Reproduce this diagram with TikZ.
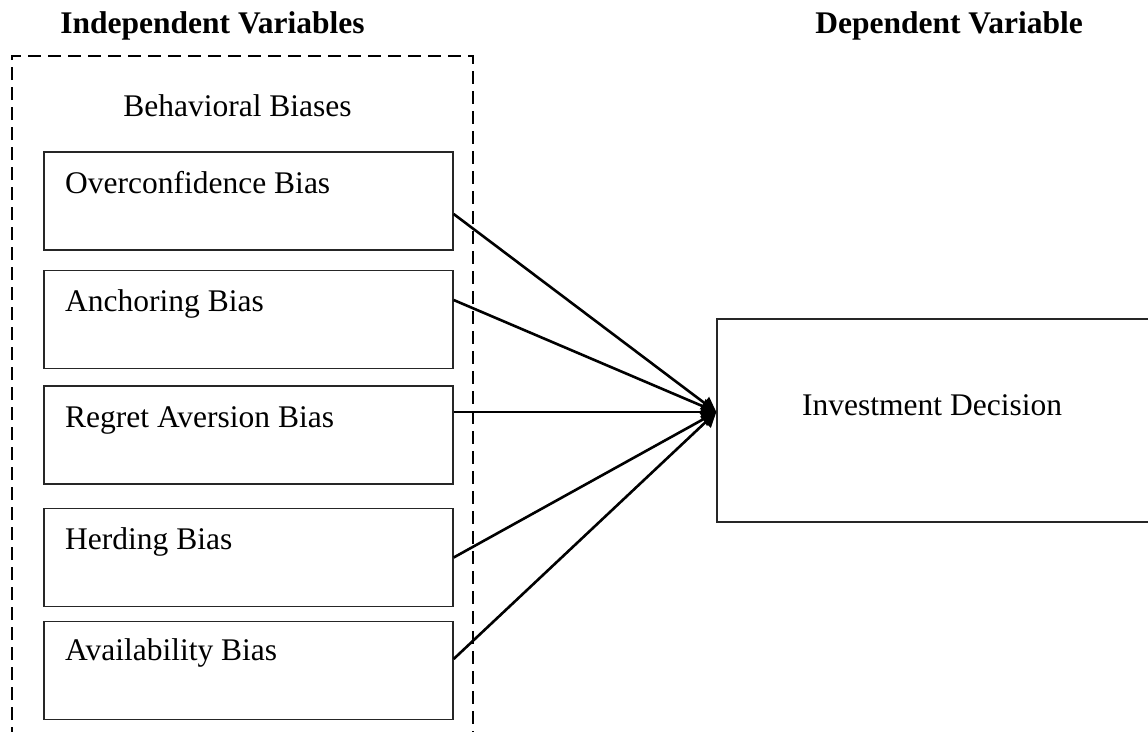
\documentclass[tikz,border=0pt]{standalone}
\usepackage{fontspec}
\setmainfont{Liberation Serif}
\usetikzlibrary{arrows.meta}
\tikzset{
  biasbox/.style={draw=black!85, line width=1.3pt, minimum width=409pt, minimum height=98pt, inner sep=0pt},
  boxlabel/.style={anchor=base west, inner sep=0pt, font=\fontsize{31.5}{38}\selectfont},
  heading/.style={anchor=base, inner sep=0pt, font=\fontsize{31.5}{38}\selectfont\bfseries},
  groupline/.style={line width=2.8pt, dash pattern=on 13pt off 7pt},
  link/.style={line width=2.6pt, -{Triangle[length=15pt,width=15pt]}}
}
\begin{document}
\begin{tikzpicture}[x=1pt,y=-1pt]
\useasboundingbox (0,0) rectangle (1148,731);
\clip (0,0) rectangle (1148,731);
% headings
\node[heading] (hind) at (212.5,33) {Independent Variables};
\node[heading] (hdep) at (949,33) {Dependent Variable};
% dashed group
\draw[groupline] (12,760) -- (12,56) -- (473,56) -- (473,760);
\node[anchor=base, inner sep=0pt, font=\fontsize{31.5}{38}\selectfont] (grp) at (237.5,116) {Behavioral Biases};
% bias boxes
\node[biasbox] (b1) at (248.5,201) {};
\node[biasbox] (b2) at (248.5,319.5) {};
\node[biasbox] (b3) at (248.5,435) {};
\node[biasbox] (b4) at (248.5,557.5) {};
\node[biasbox] (b5) at (248.5,670.5) {};
\node[boxlabel] (l1) at (65,193) {Overconfidence Bias};
\node[boxlabel] (l2) at (65,311) {Anchoring Bias};
\node[boxlabel] (l3) at (65,427) {Regret Aversion Bias};
\node[boxlabel] (l4) at (65,549) {Herding Bias};
\node[boxlabel] (l5) at (65,660) {Availability Bias};
% dependent box
\node[draw=black!85, line width=1.3pt, minimum width=443pt, minimum height=203pt, inner sep=0pt] (inv) at (938.5,420.5) {};
\node[boxlabel] (linv) at (802,415) {Investment Decision};
% connectors
\coordinate (tip) at ([yshift=8.5pt]inv.west);
\draw[link] ([yshift=-13pt]b1.east) -- (tip);
\draw[link] ([yshift=19.5pt]b2.east) -- (tip);
\draw[link] ([yshift=23pt]b3.east) -- (tip);
\draw[link] (b4.east) -- (tip);
\draw[link] ([yshift=11.5pt]b5.east) -- (tip);
\end{tikzpicture}
\end{document}
